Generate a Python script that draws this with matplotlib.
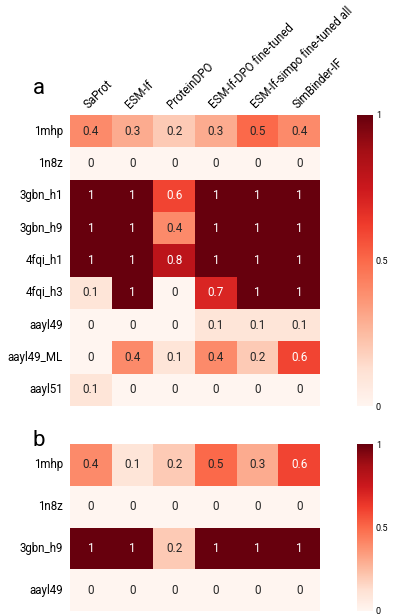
import numpy as np
import matplotlib
matplotlib.use("Agg")
import matplotlib.pyplot as plt
import seaborn as sns

methods = ["SaProt", "ESM-If", "ProteinDPO", "ESM-If-DPO fine-tuned",
           "ESM-If-simpo fine-tuned all", "SimBinder-IF"]

rows_a = ["1mhp", "1n8z", "3gbn_h1", "3gbn_h9", "4fqi_h1", "4fqi_h3",
          "aayl49", "aayl49_ML", "aayl51"]
vals_a = [
    [0.4, 0.3, 0.2, 0.3, 0.5, 0.4],
    [0, 0, 0, 0, 0, 0],
    [1, 1, 0.6, 1, 1, 1],
    [1, 1, 0.4, 1, 1, 1],
    [1, 1, 0.8, 1, 1, 1],
    [0.1, 1, 0, 0.7, 1, 1],
    [0, 0, 0, 0.1, 0.1, 0.1],
    [0, 0.4, 0.1, 0.4, 0.2, 0.6],
    [0.1, 0, 0, 0, 0, 0],
]

rows_b = ["1mhp", "1n8z", "3gbn_h9", "aayl49"]
vals_b = [
    [0.4, 0.1, 0.2, 0.5, 0.3, 0.6],
    [0, 0, 0, 0, 0, 0],
    [1, 1, 0.2, 1, 1, 1],
    [0, 0, 0, 0, 0, 0],
]

plt.rcParams['font.family'] = ['Roboto', 'DejaVu Sans']

W, H = 396, 616
fig = plt.figure(figsize=(W / 100, H / 100), dpi=100)

def box(x0, y0, x1, y1):
    return (x0 / W, 1 - y1 / H, (x1 - x0) / W, (y1 - y0) / H)

def panel(hm_box, cb_box, rows, vals, show_cols):
    ax = fig.add_axes(box(*hm_box))
    cax = fig.add_axes(box(*cb_box))
    arr = np.array(vals)
    sns.heatmap(arr, ax=ax, cbar_ax=cax, cmap="Reds", vmin=0, vmax=1,
                annot=False, xticklabels=methods, yticklabels=rows)
    for i in range(arr.shape[0]):
        for j in range(arr.shape[1]):
            v = arr[i, j]
            ax.text(j + 0.5, i + 0.5, f"{v:g}", ha="center", va="center",
                    fontsize=8.5, color="white" if v >= 0.55 else "#262626")
    ax.tick_params(length=0, labelsize=8.3, pad=5)
    ax.set_yticklabels(rows, rotation=0)
    if show_cols:
        ax.xaxis.tick_top()
        ax.set_xticklabels(methods, rotation=45, ha="left", rotation_mode="anchor")
        ax.tick_params(axis="x", pad=3)
    else:
        ax.set_xticks([])
    cax.set_yticks([0, 0.5, 1])
    cax.set_yticklabels(["0", "0.5", "1"])
    cax.tick_params(length=0, labelsize=6.5, pad=2)
    for s in cax.spines.values():
        s.set_visible(False)
    return ax

panel((70, 115, 320, 406), (357, 115, 373, 406), rows_a, vals_a, True)
panel((70, 444, 320, 611), (357, 444, 373, 611), rows_b, vals_b, False)

fig.text(33 / W, 1 - 89 / H, "a", fontsize=16, va="center")
fig.text(33 / W, 1 - 440 / H, "b", fontsize=16, va="center")

fig.savefig("out.png", dpi=100)
